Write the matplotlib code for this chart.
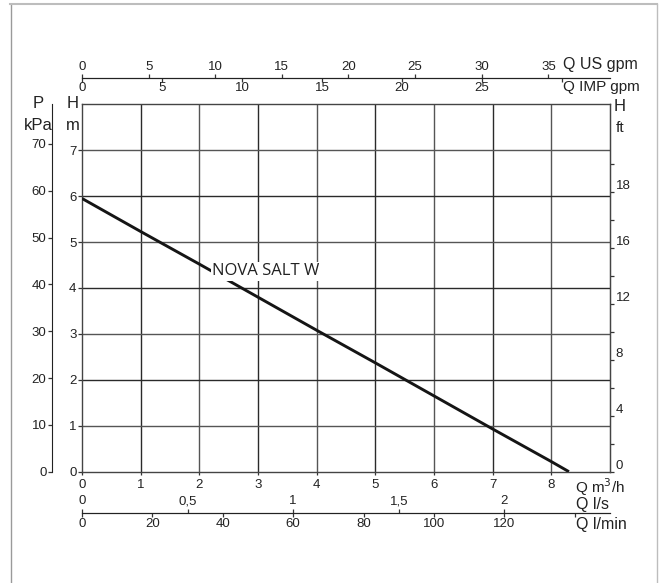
import matplotlib

matplotlib.use("Agg")
import matplotlib.pyplot as plt
from matplotlib.lines import Line2D
from matplotlib.ticker import FixedLocator

plt.rcParams["font.family"] = ["Liberation Sans", "DejaVu Sans"]

# pump curve (Q in m3/h, H in m)
q_m3h = [0, 1, 2, 3, 4, 5, 6, 7, 8, 8.3]
h_m = [5.95, 5.23, 4.52, 3.80, 3.08, 2.37, 1.65, 0.93, 0.22, 0.0]
curve_name = "NOVA SALT W"

# axis ticks
q_ticks = [0, 1, 2, 3, 4, 5, 6, 7, 8]
h_ticks = [0, 1, 2, 3, 4, 5, 6, 7]
kpa_ticks = [0, 10, 20, 30, 40, 50, 60, 70]
ft_ticks = [0, 2, 4, 6, 8, 10, 12, 14, 16, 18, 20, 22]
ft_labels = ["0", "", "4", "", "8", "", "12", "", "16", "", "18", ""]
us_ticks = [0, 5, 10, 15, 20, 25, 30, 35]
imp_ticks = [0, 5, 10, 15, 20, 25, 30]
imp_labels = ["0", "5", "10", "15", "20", "25", ""]
ls_ticks = [0, 0.5, 1, 1.5, 2]
ls_labels = ["0", "0,5", "1", "1,5", "2"]
lmin_ticks = [0, 20, 40, 60, 80, 100, 120, 140]
lmin_labels = ["0", "20", "40", "60", "80", "100", "120", ""]

M3H_US = 4.40287
M3H_IMP = 3.66615
M3H_LS = 1 / 3.6
M3H_LMIN = 1000 / 60
M_KPA = 9.80665
M_FT = 3.28084

W, H = 661, 583
fig = plt.figure(figsize=(W / 100, H / 100), dpi=100)

x0, x1, y0, y1 = 82, 610, 471.7, 104.3
ax = fig.add_axes([x0 / W, 1 - y0 / H, (x1 - x0) / W, (y0 - y1) / H])
ax.set_xlim(0, 9)
ax.set_ylim(0, 8)
for s in ax.spines.values():
    s.set_color("#444444")
    s.set_linewidth(1.0)

for i, q in enumerate(q_ticks[1:]):
    ax.axvline(q, color="#2a2a2a" if i % 2 == 0 else "#555555", lw=1.0, zorder=1)
for i, h in enumerate(h_ticks[1:]):
    ax.axhline(h, color="#555555" if i % 2 == 0 else "#2a2a2a", lw=1.0, zorder=1)

ax.plot(q_m3h, h_m, color="#151515", lw=2.1, zorder=3, solid_capstyle="butt")
ax.text(2.22, 4.36, curve_name, fontsize=12, family=["Open Sans", "DejaVu Sans"],
        color="#222222", ha="left", va="center", zorder=4,
        bbox=dict(facecolor="white", edgecolor="none", pad=1.0))

tick_kw = dict(labelsize=9.5, colors="#333333", labelcolor="#222222", length=3, width=0.9)

ax.set_xticks(q_ticks)
ax.set_yticks(h_ticks)
ax.tick_params(axis="x", direction="out", pad=3, **tick_kw)
ax.tick_params(axis="y", direction="out", pad=1, **tick_kw)
ax.tick_params(axis="x", length=2)

# kPa axis on the far left
kpa = ax.secondary_yaxis(-30 / (x1 - x0), functions=(lambda m: m * M_KPA, lambda p: p / M_KPA))
kpa.yaxis.set_major_locator(FixedLocator(kpa_ticks))
kpa.tick_params(pad=1, **tick_kw)
kpa.spines["left"].set_color("#222222")

# ft axis on the right (labels sit a little above their ticks)
ft = ax.secondary_yaxis("right", functions=(lambda m: m * M_FT, lambda f: f / M_FT))
ft.yaxis.set_major_locator(FixedLocator(ft_ticks))
ft.set_yticklabels(ft_labels)
ft.tick_params(pad=1, **tick_kw)
ft.spines["right"].set_color("#555555")
for lbl in ft.get_yticklabels():
    lbl.set_verticalalignment("bottom")

# top flow scales
top_loc = (y0 - 78.3) / (y0 - y1)
us = ax.secondary_xaxis(top_loc, functions=(lambda q: q * M3H_US, lambda g: g / M3H_US))
us.xaxis.set_major_locator(FixedLocator(us_ticks))
us.tick_params(pad=1, **tick_kw)
imp = ax.secondary_xaxis(top_loc, functions=(lambda q: q * M3H_IMP, lambda g: g / M3H_IMP))
imp.set_alignment("bottom")
imp.xaxis.set_major_locator(FixedLocator(imp_ticks))
imp.set_xticklabels(imp_labels)
imp.tick_params(pad=0, **tick_kw)

# bottom flow scales
bot_loc = (y0 - 512.7) / (y0 - y1)
ls = ax.secondary_xaxis(bot_loc, functions=(lambda q: q * M3H_LS, lambda l: l / M3H_LS))
ls.set_alignment("top")
ls.xaxis.set_major_locator(FixedLocator(ls_ticks))
ls.set_xticklabels(ls_labels)
ls.tick_params(pad=1, **tick_kw)
lmin = ax.secondary_xaxis(bot_loc, functions=(lambda q: q * M3H_LMIN, lambda l: l / M3H_LMIN))
lmin.xaxis.set_major_locator(FixedLocator(lmin_ticks))
lmin.set_xticklabels(lmin_labels)
lmin.tick_params(pad=1, **tick_kw)

for sec in (us, imp, ls, lmin):
    for s in sec.spines.values():
        s.set_color("#222222")


def label(x, y, s, ha="left", size=12):
    fig.text(x / W, 1 - y / H, s, ha=ha, va="center", fontsize=size, color="#222222")


label(563, 65, "Q US gpm", size=11.5)
label(563, 87, "Q IMP gpm", size=11)
label(614, 106, "H")
label(616, 128, "ft", size=11)
label(575, 487, "Q m$^3$/h", size=11)
label(576, 504, "Q l/s", size=11.5)
label(576, 524, "Q l/min", size=11.5)
label(38, 103, "P", ha="center")
label(38, 125, "kPa", ha="center")
label(73, 103, "H", ha="center")
label(73, 125, "m", ha="center")

# light frame around the chart
fig.add_artist(Line2D([10.5 / W, 10.5 / W], [0, 1 - 4 / H], transform=fig.transFigure,
                      color="#9a9a9a", lw=1.0))
fig.add_artist(Line2D([10 / W, 657 / W], [1 - 4 / H, 1 - 4 / H], transform=fig.transFigure,
                      color="#bdbdbd", lw=1.5))
fig.add_artist(Line2D([657 / W, 657 / W], [0, 1 - 4 / H], transform=fig.transFigure,
                      color="#bdbdbd", lw=1.0))

fig.savefig("out.png", dpi=100)
